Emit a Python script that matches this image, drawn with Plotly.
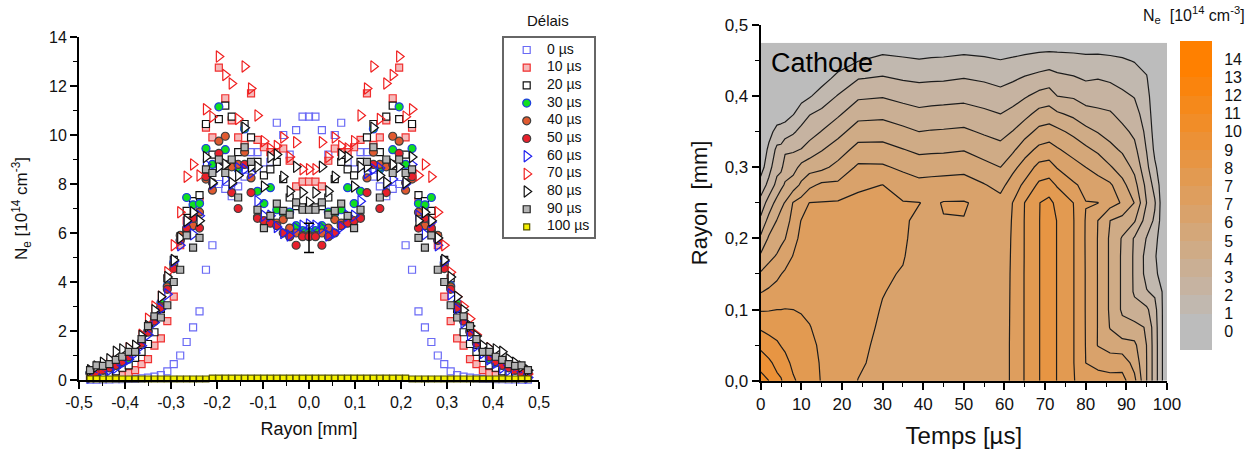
import plotly.graph_objects as go

W, H = 1256, 453
FONT = "Liberation Sans"

# ---------- left panel data (half profile, the profile is symmetric about r = 0)
radius_half = [0.000, 0.014, 0.028, 0.042, 0.056, 0.070, 0.084, 0.098, 0.112, 0.126, 0.140, 0.154,
               0.168, 0.182, 0.196, 0.210, 0.224, 0.238, 0.252, 0.266, 0.280, 0.294, 0.308, 0.322,
               0.336, 0.350, 0.364, 0.378, 0.392, 0.406, 0.420, 0.434, 0.448, 0.462, 0.476]
ne_0 = [10.75,10.75,10.2,9.2,10.0,10.5,8.9,8.6,9.3,9.3,8.3,7.9,7.5,7.8,8.0,5.5,4.5,2.8,2.15,1.55,1.0,.65,.35,.2,.14,.1,.07,.05,.04,.03,.03,.02,.02,.01,.01]
ne_10 = [8.1,8.1,7.9,8.95,9.45,9.3,9.3,9.5,9.8,11.7,9.6,9.9,10.6,11.5,12.75,9.9,10.3,7.3,7.0,6.5,5.5,3.4,2.4,1.7,1.4,.85,.65,.4,.28,.2,.15,.12,.1,.1,.1]
ne_20 = [7.05,7.05,7.1,7.45,8.2,8.9,8.6,8.35,8.9,9.9,10.45,9.3,10.75,11.2,10.65,9.2,10.45,7.55,7.3,6.9,5.85,4.9,4.15,2.9,1.95,1.47,1.15,.9,.6,.5,.35,.25,.2,.15,.12]
ne_30 = [6.05,6.1,6.3,6.85,6.8,6.95,7.85,7.2,7.7,8.7,10.25,8.6,8.9,9.4,11.15,8.8,9.45,7.2,7.15,7.45,5.7,4.8,3.85,3.15,2.55,2.0,1.55,1.25,.85,.7,.6,.5,.42,.38,.3]
ne_40 = [5.9,5.9,6.0,6.2,6.55,6.4,6.5,6.5,6.65,8.25,9.3,8.8,8.7,9.95,9.75,7.75,8.2,6.85,6.3,6.1,5.9,4.7,3.8,3.0,2.5,2.0,1.55,1.25,.95,.75,.6,.5,.4,.35,.3]
ne_50 = [5.85,5.85,5.5,5.85,6.0,6.3,6.4,6.5,6.6,7.65,8.8,7.0,7.65,8.8,9.25,8.05,8.3,6.2,6.6,6.2,5.7,4.55,3.7,2.95,2.4,1.95,1.5,1.2,.95,.75,.6,.5,.4,.32,.28]
ne_60 = [6.35,6.3,6.2,5.9,6.0,6.25,6.7,6.7,7.3,8.45,8.6,8.65,8.0,8.2,8.7,8.0,8.8,6.7,5.95,6.45,5.5,4.85,3.5,2.9,2.35,1.85,1.4,1.1,.85,.7,.5,.4,.25,.15,.1]
ne_70 = [8.6,8.6,9.7,9.1,9.9,9.55,9.45,9.75,10.8,11.9,12.8,10.65,12.1,12.45,13.2,10.75,11.05,8.35,8.8,8.3,6.85,5.5,4.4,3.4,3.0,2.5,1.85,1.35,1.3,.95,.8,.65,.5,.4,.25]
ne_80 = [7.25,7.65,8.7,7.7,8.3,9.2,9.1,7.9,8.7,8.7,10.3,8.35,8.05,8.8,8.7,8.05,9.1,6.5,6.85,6.5,5.8,4.9,4.2,3.4,2.85,2.2,1.8,1.4,1.3,1.25,1.15,.85,.7,.55,.4]
ne_90 = [6.95,6.95,7.25,6.75,6.9,7.2,6.7,6.2,6.95,8.9,9.5,7.45,9.0,8.45,9.0,8.45,8.6,5.8,5.4,5.9,4.5,4.0,3.05,2.55,2.6,2.2,1.67,1.15,1.15,.95,.82,.65,.58,.6,.4]
ne_100 = [.08,.08,.08,.08,.08,.08,.08,.08,.08,.08,.08,.08,.08,.08,.08,.08,.04,.04,.04,.04,.04,.04,.04,.04,.04,.04,.04,.04,.04,.04,.04,.04,.04,.04,.04]
legend_names = ["0 µs","10 µs","20 µs","30 µs","40 µs","50 µs","60 µs","70 µs","80 µs","90 µs","100 µs"]
err_center = [5.8]
err_half = [0.6]

left_x_ticks = [-.5,-.4,-.3,-.2,-.1,0,.1,.2,.3,.4,.5]
left_x_text = ["-0,5","-0,4","-0,3","-0,2","-0,1","0,0","0,1","0,2","0,3","0,4","0,5"]
left_x_minor = [-.45,-.35,-.25,-.15,-.05,.05,.15,.25,.35,.45]
left_y_ticks = [0,2,4,6,8,10,12,14]
left_y_minor = [1,3,5,7,9,11,13]

# ---------- right panel data: Ne band value at each radius (rows), one list per time
radius_grid = [0,.025,.05,.075,.1,.125,.15,.175,.2,.225,.25,.275,.3,.325,.35,.375,.4,.425,.45,.475]
time_grid = [0,2,4,5,6,8,10,12,15,19,24,30,35,39,42,45,50,55,59,62,65,68.5,71,73,77,80,83,86,89,92,95,97,99,100]
z_t0 = [11.4,10.6,9.75,8.85,7.9,6.95,6.13,5.16,4.2,3.25,2.35,1.45,.55,.3,.3,.3,.3,.3,.3,.3]
z_t2 = [11,10.2,9.42,8.68,7.94,7.16,6.43,5.74,5.13,4.32,3.44,2.28,1.64,1.18,.7,.4,.4,.4,.4,.4]
z_t4 = [10.25,9.72,9.15,8.58,8,7.39,6.76,6.08,5.55,5.04,4.34,3.32,2.67,2.23,1.29,.5,.4,.4,.4,.4]
z_t5 = [10.1,9.52,8.96,8.48,8,7.5,6.98,6.32,5.77,5.33,4.78,3.73,2.73,2.25,1.4,.5,.4,.4,.4,.4]
z_t6 = [9.65,9.25,8.84,8.43,8.02,7.58,7.14,6.58,5.97,5.47,5.05,4.12,3.5,2.81,1.48,.6,.4,.4,.4,.4]
z_t8 = [9.1,8.82,8.54,8.27,8,7.68,7.36,7.04,6.7,6.4,6.06,4.5,3.6,2.88,1.86,.95,.6,.4,.4,.4]
z_t10 = [8.8,8.58,8.37,8.15,7.95,7.76,7.58,7.4,7.22,7.04,6.4,5.2,4.3,3.03,2.3,1.45,.7,.4,.4,.4]
z_t12 = [8.45,8.3,8.17,8.03,7.88,7.73,7.6,7.45,7.3,7.15,7.02,5.75,4.6,3.4,2.6,1.95,.9,.4,.4,.4]
z_t15 = [7.94,7.92,7.88,7.8,7.7,7.6,7.5,7.4,7.3,7.2,7.05,6.2,4.75,3.93,3.04,2.24,1.45,.6,.4,.4]
z_t19 = [7.52,7.5,7.5,7.5,7.5,7.48,7.45,7.4,7.3,7.2,7.1,6.2,5.3,4.5,3.67,2.84,2.06,1.28,.5,.4]
z_t24 = [6.98,7.12,7.2,7.3,7.35,7.4,7.4,7.4,7.35,7.3,7.2,6.86,6.17,5.34,4.5,3.67,2.83,1.96,.96,.4]
z_t30 = [6.7,6.75,6.8,6.87,6.95,7.03,7.1,7.15,7.15,7.15,7.1,7.01,6.14,5.34,4.55,3.74,2.93,2.1,1.3,.4]
z_t35 = [6.5,6.55,6.6,6.65,6.75,6.85,6.95,7.05,7.1,7.1,7.05,6.56,5.8,5.03,4.25,3.47,2.69,1.91,1.15,.4]
z_t39 = [6.4,6.42,6.44,6.46,6.5,6.55,6.6,6.68,6.76,6.85,7.02,6.3,5.55,4.78,4.0,3.26,2.54,1.83,1.05,.4]
z_t42 = [6.37,6.38,6.4,6.42,6.44,6.48,6.53,6.62,6.74,6.85,6.85,6.35,5.6,4.82,4.07,3.33,2.6,1.86,1.12,.4]
z_t45 = [6.35,6.36,6.38,6.4,6.42,6.45,6.5,6.6,6.75,6.97,7.05,6.4,5.63,4.84,4.1,3.37,2.64,1.88,1.15,.4]
z_t50 = [6.3,6.32,6.34,6.36,6.38,6.42,6.48,6.58,6.75,6.98,7.06,6.45,5.7,4.94,4.18,3.44,2.71,2.0,1.3,.4]
z_t55 = [6.3,6.32,6.34,6.36,6.38,6.4,6.42,6.45,6.5,6.6,6.8,6.06,5.3,4.57,3.87,3.2,2.54,1.86,1.17,.4]
z_t59 = [6.55,6.55,6.55,6.55,6.55,6.55,6.55,6.55,6.55,6.55,6.35,5.68,5.0,4.32,3.66,3.0,2.34,1.68,1.03,.4]
z_t62 = [7.16,7.16,7.16,7.15,7.14,7.13,7.12,7.1,7.08,7.05,7.01,6.47,5.72,4.8,4.03,3.29,2.57,1.86,1.14,.4]
z_t65 = [8.06,8.06,8.06,8.06,8.06,8.06,8.06,8.05,8.05,8.05,8.02,7.22,6.43,5.58,4.6,3.7,2.9,2.1,1.3,.4]
z_t68 = [8.98,8.98,8.98,8.98,8.98,8.98,8.98,8.98,8.98,8.98,8.97,8.2,7.31,6.24,5.29,4.32,3.32,2.32,1.43,.5]
z_t71 = [9.3,9.3,9.3,9.3,9.3,9.3,9.3,9.3,9.3,9.3,9.3,8.38,7.4,6.4,5.44,4.44,3.46,2.48,1.5,.5]
z_t73 = [8.97,8.97,8.97,8.97,8.97,8.97,8.97,8.97,8.97,8.97,8.7,7.9,6.93,6.1,5.24,4.14,3.0,2.26,1.45,.5]
z_t77 = [8.03,8.03,8.03,8.03,8.03,8.03,8.03,8.03,8.03,8.03,7.99,7.14,6.38,5.6,4.76,3.78,2.88,2.1,1.37,.5]
z_t80 = [7.7,7.0,6.97,6.96,6.95,6.95,6.95,6.94,6.93,6.94,7.03,6.73,6.0,5.2,4.3,3.37,2.58,1.9,1.27,.5]
z_t83 = [7.4,6.73,5.95,5.96,5.96,5.96,5.96,5.96,5.96,5.99,7.02,6.35,5.7,4.8,3.95,3.2,2.6,1.97,1.28,.5]
z_t86 = [7.3,6.63,5.5,4.95,4.85,4.85,4.85,4.85,4.85,5.0,6.4,6.15,5.1,4.27,3.63,3.1,2.5,1.85,1.2,.5]
z_t89 = [7.35,6.6,5.4,4.3,3.85,3.85,3.85,3.85,3.9,4.65,5.9,5.3,4.53,3.85,3.25,2.7,2.2,1.67,1.1,.5]
z_t92 = [6.25,5.65,5.2,4.35,3.3,2.88,2.86,2.86,2.9,4.1,4.97,4.35,3.75,3.25,2.8,2.37,1.95,1.45,.95,.5]
z_t95 = [4.0,4.0,3.98,3.9,3.2,2.05,1.7,1.68,1.95,2.5,2.98,2.7,2.25,1.95,1.75,1.5,1.28,1.05,.8,.5]
z_t97 = [2.5,2.5,2.5,2.45,2.3,1.85,1.2,1.1,1.3,1.85,2.1,1.65,1.15,.8,.6,.5,.45,.4,.4,.4]
z_t99 = [.9,.9,.9,.9,.9,.9,.6,.4,.4,.4,.4,.4,.4,.4,.4,.4,.4,.4,.4,.4]
z_t100 = [.4,.4,.4,.4,.4,.4,.4,.4,.4,.4,.4,.4,.4,.4,.4,.4,.4,.4,.4,.4]

right_x_ticks = [0,10,20,30,40,50,60,70,80,90,100]
right_x_minor = [5,15,25,35,45,55,65,75,85,95]
right_y_ticks = [0,.1,.2,.3,.4,.5]
right_y_text = ["0,0","0,1","0,2","0,3","0,4","0,5"]
right_y_minor = [.05,.15,.25,.35,.45]

# ---------- colour scale strip
strip_bands = [0,0,1,2,3,4,5,6,7,8,9,10,11,12,13,14,14]
strip_label_pos = [0,1,2,3,4,5,6,7,8,9,10,11,12,13,14,15]
strip_labels = ["0","1","2","3","4","5","6","7","7","8","9","10","11","12","13","14"]
colorscale = [[0, "#bcbcbc"], [1, "#ff8000"]]

z_columns = [z_t0,z_t2,z_t4,z_t5,z_t6,z_t8,z_t10,z_t12,z_t15,z_t19,z_t24,z_t30,z_t35,z_t39,z_t42,z_t45,
             z_t50,z_t55,z_t59,z_t62,z_t65,z_t68,z_t71,z_t73,z_t77,z_t80,z_t83,z_t86,z_t89,z_t92,z_t95,z_t97,z_t99,z_t100]
z_matrix = [list(row) for row in zip(*z_columns)]

def mirror(v):
    return list(v[:0:-1]) + list(v)
radius_full = [-r for r in radius_half[:0:-1]] + radius_half

styles = [
    (ne_0,  "square", 7, "rgba(255,255,255,0)", "#6a6af5"),
    (ne_10, "square", 7, "#f5b9b9", "#f03030"),
    (ne_20, "square", 7, "#ffffff", "#111111"),
    (ne_30, "circle", 8, "#10e020", "#2040e0"),
    (ne_40, "circle", 8, "#e05a30", "#404040"),
    (ne_50, "circle", 8, "#e8202c", "#404040"),
    (ne_60, "triangle-right-open", 10, "#2020f0", "#2020f0"),
    (ne_70, "triangle-right-open", 10, "#f02020", "#f02020"),
    (ne_80, "triangle-right", 10, "#ffffff", "#111111"),
    (ne_90, "square", 7, "#b4b4b4", "#222222"),
    (ne_100,"square", 6, "#f5f000", "#555500"),
]

fig = go.Figure()
for name, (vals, sym, size, fill, edge) in zip(legend_names, styles):
    marker = dict(symbol=sym, size=size, color=fill, line=dict(color=edge, width=1.2))
    fig.add_trace(go.Scatter(x=radius_full, y=mirror(vals), mode="markers", name=name, cliponaxis=False,
                             marker=marker, showlegend=False, xaxis="x", yaxis="y"))
fig.add_trace(go.Scatter(x=[0], y=err_center, mode="lines", showlegend=False, xaxis="x", yaxis="y",
                         error_y=dict(type="data", array=err_half, color="#000000", thickness=1.5, width=5)))

fig.add_trace(go.Contour(x=time_grid, y=radius_grid, z=z_matrix, xaxis="x2", yaxis="y2", showscale=False,
                         autocontour=False, colorscale=colorscale, showlegend=False,
                         contours=dict(start=1, end=14, size=1, coloring="fill", showlines=True),
                         line=dict(color="#1c1c1c", width=1.2, smoothing=0)))
fig.add_trace(go.Heatmap(x=[0], y=[i - 0.5 for i in range(len(strip_bands))], z=[[b] for b in strip_bands],
                         xaxis="x3", yaxis="y3", showscale=False, colorscale=colorscale, zmin=0, zmax=14))

# legend box: one row per delay, in its own small axes so the row pitch matches
for row, (name, (vals, sym, size, fill, edge)) in enumerate(zip(legend_names, styles)):
    fig.add_trace(go.Scatter(x=[22.7], y=[row], mode="markers", name=name, showlegend=False, xaxis="x4", yaxis="y4",
                             marker=dict(symbol=sym, size=size, color=fill, line=dict(color=edge, width=1.2))))
fig.add_trace(go.Scatter(x=[43] * len(legend_names), y=list(range(len(legend_names))), mode="text", text=legend_names,
                         textposition="middle right", textfont=dict(family=FONT, size=14, color="#111111"),
                         showlegend=False, xaxis="x4", yaxis="y4"))

def dom_x(a, b): return [a / W, b / W]
def dom_y(top, bottom): return [1 - bottom / H, 1 - top / H]

def axis_style(size):
    return dict(showline=True, linecolor="#000000", linewidth=2, showgrid=False, zeroline=False, automargin=False,
                ticks="outside", ticklen=7, tickwidth=1.5, tickcolor="#000000", tickmode="array",
                tickfont=dict(family=FONT, size=size, color="#111111"))
def minor(vals):
    return dict(tickmode="array", tickvals=vals, ticks="outside", ticklen=4, tickwidth=1.2, tickcolor="#000000", showgrid=False)
legend_axis = dict(showline=True, mirror=True, linecolor="#666666", linewidth=1.5, showgrid=False, zeroline=False,
                   showticklabels=False, ticks="", automargin=False)

fig.update_layout(
    width=W, height=H, autosize=False, margin=dict(l=0, r=0, t=0, b=0), showlegend=False,
    paper_bgcolor="#ffffff", plot_bgcolor="#ffffff", font=dict(family=FONT, color="#111111"),
    xaxis=dict(domain=dom_x(79, 539), range=[-.5, .5], anchor="y", tickvals=left_x_ticks, ticktext=left_x_text,
               minor=minor(left_x_minor), title=dict(text="Rayon [mm]", font=dict(size=18), standoff=12), **axis_style(16)),
    yaxis=dict(domain=dom_y(37, 380), range=[0, 14], anchor="x", tickvals=left_y_ticks, ticktext=[str(v) for v in left_y_ticks],
               minor=minor(left_y_minor), title=dict(text="N<sub>e</sub> [10<sup>14</sup> cm<sup>-3</sup>]", font=dict(size=17), standoff=17), **axis_style(16)),
    xaxis2=dict(domain=dom_x(760.7, 1167), range=[0, 100], anchor="y2", tickvals=right_x_ticks, ticktext=[str(v) for v in right_x_ticks],
                minor=minor(right_x_minor), title=dict(text="Temps [µs]", font=dict(size=24), standoff=14), **axis_style(17)),
    yaxis2=dict(domain=dom_y(25, 380.7), range=[0, .5], anchor="x2", tickvals=right_y_ticks, ticktext=right_y_text,
                minor=minor(right_y_minor), title=dict(text="Rayon  [mm]", font=dict(size=22), standoff=11), **axis_style(17)),
    xaxis3=dict(domain=dom_x(1180, 1212), anchor="y3", showticklabels=False, ticks="", showgrid=False, zeroline=False, showline=False, automargin=False),
    yaxis3=dict(domain=dom_y(41, 350), range=[-1, 16], anchor="x3", side="right", tickmode="array", tickvals=strip_label_pos, automargin=False,
                ticktext=strip_labels, ticks="outside", ticklen=8, tickcolor="rgba(0,0,0,0)", showgrid=False, zeroline=False, showline=False,
                tickfont=dict(family=FONT, size=16, color="#111111")),
    xaxis4=dict(domain=dom_x(504, 594), range=[0, 90], anchor="y4", **legend_axis),
    yaxis4=dict(domain=dom_y(37.7, 236.7), range=[10.55, -0.695], anchor="x4", **legend_axis),
    annotations=[
        dict(text="Délais", xref="paper", yref="paper", x=548 / W, y=1 - 20 / H, xanchor="center", yanchor="middle",
             showarrow=False, font=dict(size=15, family=FONT)),
        dict(text="Cathode", xref="x2", yref="y2", x=2, y=.447, xanchor="left", yanchor="middle", showarrow=False,
             font=dict(size=27, family=FONT, color="#000000")),
        dict(text="N<sub>e</sub>  [10<sup>14</sup> cm<sup>-3</sup>]", xref="paper", yref="paper", x=1194 / W, y=1 - 15 / H,
             xanchor="center", yanchor="middle", showarrow=False, font=dict(size=16, family=FONT)),
    ],
)

fig.write_html("out.html", post_script="document.body.style.margin='0';", config={"displayModeBar": False})
